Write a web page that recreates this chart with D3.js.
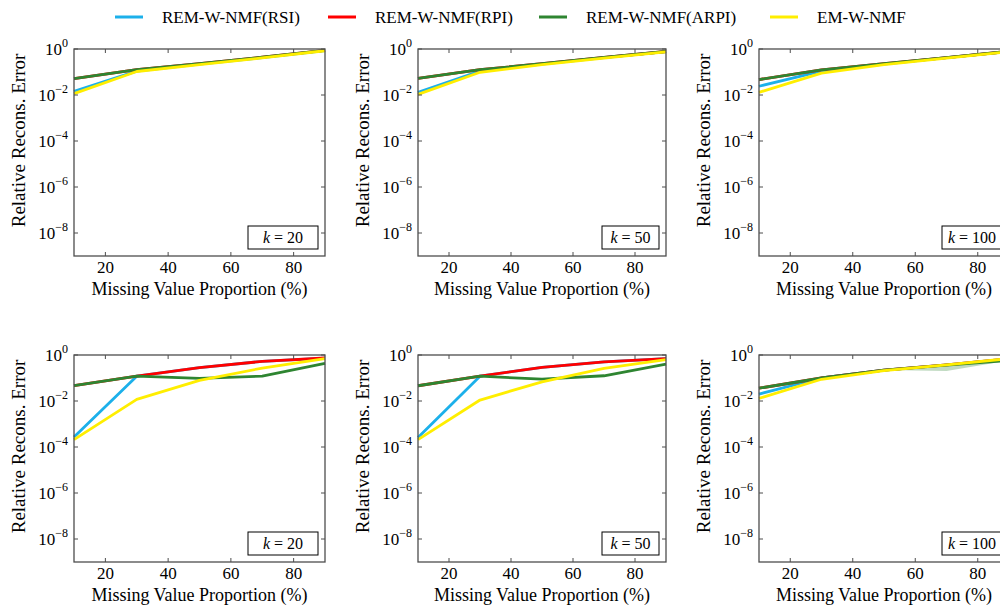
<!DOCTYPE html>
<html>
<head>
<meta charset="utf-8">
<style>
  body { margin: 0; background: #fff; }
</style>
<script src="https://d3js.org/d3.v7.min.js"></script>
</head>
<body>
<div id="chart"></div>
<script>
// missing value proportion (%)
var xs = [10, 30, 50, 70, 90]
// k for each panel, row by row
var kValues = [20, 50, 100, 20, 50, 100]
var seriesNames = ["REM-W-NMF(RSI)", "REM-W-NMF(RPI)", "REM-W-NMF(ARPI)", "EM-W-NMF"]
var colors = ["#1cb0ea", "#ff0000", "#2e8531", "#ffee00"]

// relative reconstruction error, one array per panel
var rsi = [
  [0.0145, 0.11, 0.22, 0.42, 0.85],
  [0.013, 0.11, 0.22, 0.42, 0.77],
  [0.024, 0.11, 0.22, 0.42, 0.78],
  [0.00027, 0.12, 0.28, 0.53, 0.73],
  [0.00026, 0.12, 0.29, 0.5, 0.7],
  [0.02, 0.1, 0.22, 0.37, 0.68]
]
var rpi = [
  [0.051, 0.126, 0.23, 0.44, 0.87],
  [0.053, 0.126, 0.23, 0.43, 0.78],
  [0.047, 0.125, 0.23, 0.42, 0.79],
  [0.047, 0.12, 0.28, 0.53, 0.74],
  [0.046, 0.12, 0.29, 0.5, 0.7],
  [0.036, 0.1, 0.22, 0.37, 0.68]
]
var arpi = [
  [0.051, 0.126, 0.23, 0.44, 0.87],
  [0.053, 0.126, 0.23, 0.43, 0.78],
  [0.047, 0.125, 0.23, 0.42, 0.79],
  [0.047, 0.12, 0.096, 0.12, 0.43],
  [0.046, 0.12, 0.089, 0.125, 0.4],
  [0.036, 0.1, 0.22, 0.36, 0.58]
]
var em = [
  [0.0115, 0.105, 0.21, 0.41, 0.84],
  [0.0107, 0.097, 0.21, 0.4, 0.75],
  [0.013, 0.09, 0.21, 0.4, 0.76],
  [0.00021, 0.0117, 0.079, 0.27, 0.7],
  [0.00021, 0.011, 0.068, 0.26, 0.63],
  [0.013, 0.088, 0.21, 0.37, 0.7]
]
// shaded spread in the k=100 lower panel
var bandX = [50, 70, 90]
var bandLow = [0.22, 0.2, 0.58]
var bandHigh = [0.22, 0.36, 0.6]

var xTicks = [20, 40, 60, 80]
var yTickExp = [0, -2, -4, -6, -8]

var width = 1000, height = 605
var colLeft = [74, 418, 759]
var colWidth = [251, 248, 250]
var rowTop = [49, 355]
var plotH = 207
var frame = "#4d4d4d"
var serif = "'Times New Roman', Times, 'Liberation Serif', Tinos, 'DejaVu Serif', 'Noto Serif', serif"

var svg = d3.select("#chart").append("svg")
  .attr("width", width)
  .attr("height", height)
  .style("font-family", serif)

// legend
var legendX = [115, 328, 539, 770]
seriesNames.forEach(function(name, i) {
  svg.append("line")
    .attr("x1", legendX[i]).attr("x2", legendX[i] + 28)
    .attr("y1", 17).attr("y2", 17)
    .attr("stroke", colors[i]).attr("stroke-width", 3)
  svg.append("text")
    .attr("x", legendX[i] + 47).attr("y", 23)
    .attr("font-size", 17)
    .text(name)
})

var allSeries = [rsi, rpi, arpi, em]

kValues.forEach(function(k, p) {
  var row = Math.floor(p / 3), col = p % 3
  var left = colLeft[col], top = rowTop[row], w = colWidth[col]

  var x = d3.scaleLinear().domain([10, 90]).range([0, w])
  var y = d3.scaleLog().domain([1e-9, 1]).range([plotH, 0])

  var g = svg.append("g").attr("transform", "translate(" + left + "," + top + ")")

  var line = d3.line()
    .x(function(d, i) { return x(xs[i]) })
    .y(function(d) { return y(d) })

  if (p == 5) {
    var area = d3.area()
      .x(function(d, i) { return x(bandX[i]) })
      .y0(function(d, i) { return y(bandLow[i]) })
      .y1(function(d) { return y(d) })
    g.append("path")
      .datum(bandHigh)
      .attr("d", area)
      .attr("fill", "#2e8531")
      .attr("fill-opacity", 0.3)
  }

  allSeries.forEach(function(s, i) {
    g.append("path")
      .datum(s[p])
      .attr("d", line)
      .attr("fill", "none")
      .attr("stroke", colors[i])
      .attr("stroke-width", 2.8)
      .attr("stroke-linejoin", "round")
  })

  // ticks inside on all four sides
  xTicks.forEach(function(t) {
    g.append("line").attr("x1", x(t)).attr("x2", x(t)).attr("y1", plotH).attr("y2", plotH - 4)
      .attr("stroke", frame)
    g.append("line").attr("x1", x(t)).attr("x2", x(t)).attr("y1", 0).attr("y2", 4)
      .attr("stroke", frame)
    g.append("text")
      .attr("x", x(t)).attr("y", plotH + 17)
      .attr("text-anchor", "middle")
      .attr("font-size", 17)
      .text(t)
  })
  yTickExp.forEach(function(e) {
    var yy = y(Math.pow(10, e))
    g.append("line").attr("x1", 0).attr("x2", 4).attr("y1", yy).attr("y2", yy)
      .attr("stroke", frame)
    g.append("line").attr("x1", w).attr("x2", w - 4).attr("y1", yy).attr("y2", yy)
      .attr("stroke", frame)
    var t = g.append("text")
      .attr("x", -6).attr("y", yy + 6)
      .attr("text-anchor", "end")
      .attr("font-size", 17)
    t.append("tspan").text("10")
    t.append("tspan").attr("dy", -8).attr("font-size", 12)
      .text(e == 0 ? "0" : "\u2212" + (-e))
  })

  g.append("rect")
    .attr("x", 0).attr("y", 0).attr("width", w).attr("height", plotH)
    .attr("fill", "none").attr("stroke", frame).attr("stroke-width", 1.3)

  // k label box
  var bw = k >= 100 ? 60 : 70
  if (col == 1) bw = 57
  g.append("rect")
    .attr("x", w - 7 - bw).attr("y", plotH - 30)
    .attr("width", bw).attr("height", 23)
    .attr("fill", "#fff").attr("stroke", "#000").attr("stroke-width", 1)
  var kt = g.append("text")
    .attr("x", w - 7 - bw / 2).attr("y", plotH - 13)
    .attr("text-anchor", "middle")
    .attr("font-size", 16)
  kt.append("tspan").attr("font-style", "italic").text("k")
  kt.append("tspan").text(" = " + k)

  g.append("text")
    .attr("x", w / 2).attr("y", plotH + 39)
    .attr("text-anchor", "middle")
    .attr("font-size", 18)
    .text("Missing Value Proportion (%)")

  g.append("text")
    .attr("transform", "translate(" + (-49) + "," + (plotH / 2 - 12) + ") rotate(-90)")
    .attr("text-anchor", "middle")
    .attr("font-size", 19)
    .text("Relative Recons. Error")
})
</script>
</body>
</html>
